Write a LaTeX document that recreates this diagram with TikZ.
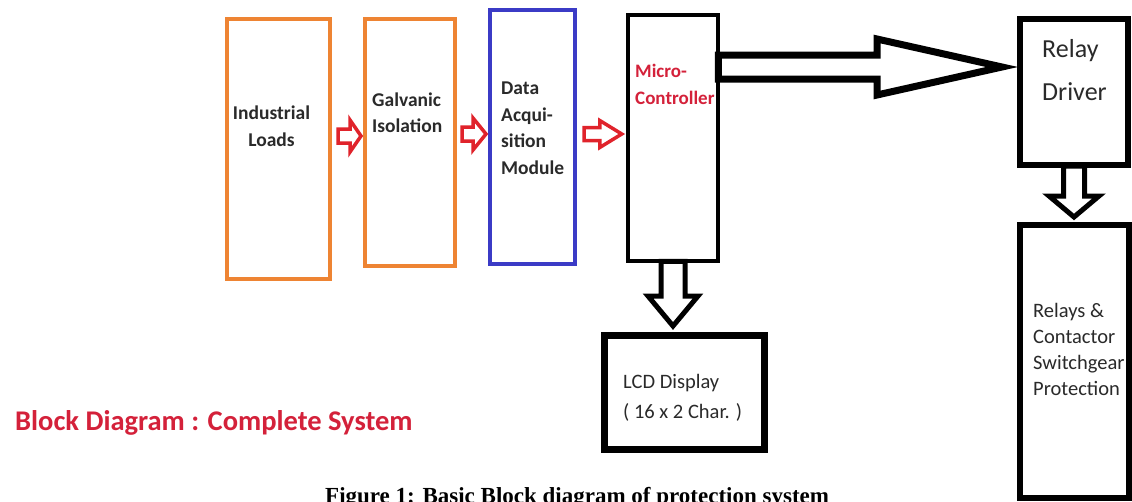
\documentclass[tikz,border=0pt]{standalone}
\usepackage{fontspec}
\setmainfont{Carlito}
\newfontfamily\capfont{Liberation Serif}
\usetikzlibrary{calc}
\definecolor{boxorange}{HTML}{EE8433}
\definecolor{boxblue}{HTML}{3B3BC6}
\definecolor{arrred}{HTML}{E0232B}
\definecolor{txtred}{HTML}{D4213A}
\definecolor{txtdark}{HTML}{2A2A2A}
% horizontal block arrow: options, start, tip, shaft half width, head half width, head length
\newcommand\hblk[6]{%
  \draw[#1] let \p1=#2, \p2=#3 in
    (\x1,\y1+#4pt) -- (\x2-#6pt,\y1+#4pt) -- (\x2-#6pt,\y1+#5pt) -- (\x2,\y1)
    -- (\x2-#6pt,\y1-#5pt) -- (\x2-#6pt,\y1-#4pt) -- (\x1,\y1-#4pt) -- cycle;}
% vertical (downward) block arrow
\newcommand\vblk[6]{%
  \draw[#1] let \p1=#2, \p2=#3 in
    (\x1+#4pt,\y1) -- (\x1+#4pt,\y2+#6pt) -- (\x1+#5pt,\y2+#6pt) -- (\x1,\y2)
    -- (\x1-#5pt,\y2+#6pt) -- (\x1-#4pt,\y2+#6pt) -- (\x1-#4pt,\y1) -- cycle;}
\tikzset{
  box/.style={draw, rectangle, inner sep=0pt},
  obox/.style={box, draw=boxorange, line width=4pt},
  bbox/.style={box, draw=boxblue, line width=4pt},
  kbox/.style={box, draw=black, line width=#1},
  redarr/.style={draw=arrred, fill=white, line width=3.5pt, line join=miter},
  blkarr/.style={draw=black, fill=white, line width=#1, line join=miter},
  lbl/.style={inner sep=0pt, align=left, anchor=base west},
  boldlbl/.style={lbl, text=txtdark, font=\fontsize{19.5pt}{26.5pt}\selectfont\bfseries},
}
\begin{document}
\begin{tikzpicture}[x=1pt,y=-1pt]
\useasboundingbox (0,0) rectangle (1132,501);
\fill[white] (0,0) rectangle (1132,501);

% blocks
\node[obox, minimum width=103pt, minimum height=260pt] (ind) at (278.5,149) {};
\node[obox, minimum width=90pt, minimum height=247pt] (gal) at (410,142.5) {};
\node[bbox, minimum width=85pt, minimum height=254pt] (daq) at (532.5,137) {};
\node[kbox=4.5pt, minimum width=90pt, minimum height=246pt] (mc) at (673,138) {};
\node[kbox=6pt, minimum width=108pt, minimum height=146pt] (rd) at (1074,92) {};
\node[kbox=6pt, minimum width=109pt, minimum height=273pt] (rel) at (1074.5,361.5) {};
\node[kbox=7pt, minimum width=160pt, minimum height=114pt] (lcd) at (684,392) {};

% labels (anchor = baseline of the last line)
\node[boldlbl, align=center, anchor=base] (tind) at (271.5,146) {Industrial\\Loads};
\node[boldlbl] (tgal) at (372,132.7) {Galvanic\\Isolation};
\node[boldlbl] (tdaq) at (501,174) {Data\\Acqui-\\sition\\Module};
\node[boldlbl, text=txtred, font=\fontsize{19pt}{26.5pt}\selectfont\bfseries] (tmc) at (635,104) {Micro-\\Controller};
\node[lbl, text=txtdark, font=\fontsize{26pt}{42.5pt}\selectfont] (trd) at (1042,100) {Relay\\Driver};
\node[lbl, text=txtdark, font=\fontsize{20.5pt}{25.8pt}\selectfont] (trel) at (1033,395) {Relays \&\\Contactor\\Switchgear\\Protection};
\node[lbl, text=txtdark, font=\fontsize{20.5pt}{30pt}\selectfont] (tlcd) at (623,418) {LCD Display\\( 16 x 2 Char. )};
\node[lbl, text=txtred, font=\fontsize{28.5pt}{30pt}\selectfont\bfseries] (title) at (15,430) {Block Diagram : Complete System};
\node[lbl, text=black, font=\capfont\fontsize{23pt}{25pt}\selectfont\bfseries] (cap) at (325,503) {Figure 1: Basic Block diagram of protection system};

% red arrows
\hblk{redarr}{($(ind.east |- 0,136)+(6,0)$)}{($(gal.west |- 0,136)+(-2,0)$)}{7}{16}{11}
\hblk{redarr}{($(gal.east |- 0,134)+(5,0)$)}{($(daq.west |- 0,134)+(-2,0)$)}{7}{16}{13}
\hblk{redarr}{($(daq.east |- 0,134)+(7,0)$)}{($(mc.west |- 0,134)+(-4,0)$)}{6.5}{13.5}{22}

% black block arrows
\hblk{blkarr=7pt}{($(mc.east |- 0,67)+(-2,0)$)}{($(rd.west |- 0,67)+(-15,0)$)}{12}{28}{125}
\vblk{blkarr=5pt}{($(mc.south)+(0,-2)$)}{($(mc.south |- lcd.north)+(0,-5.5)$)}{12}{25}{30}
\vblk{blkarr=5pt}{($(rd.south)+(0,-2)$)}{($(rd.south |- rel.north)+(0,-5)$)}{10.5}{25}{21}
\end{tikzpicture}
\end{document}
